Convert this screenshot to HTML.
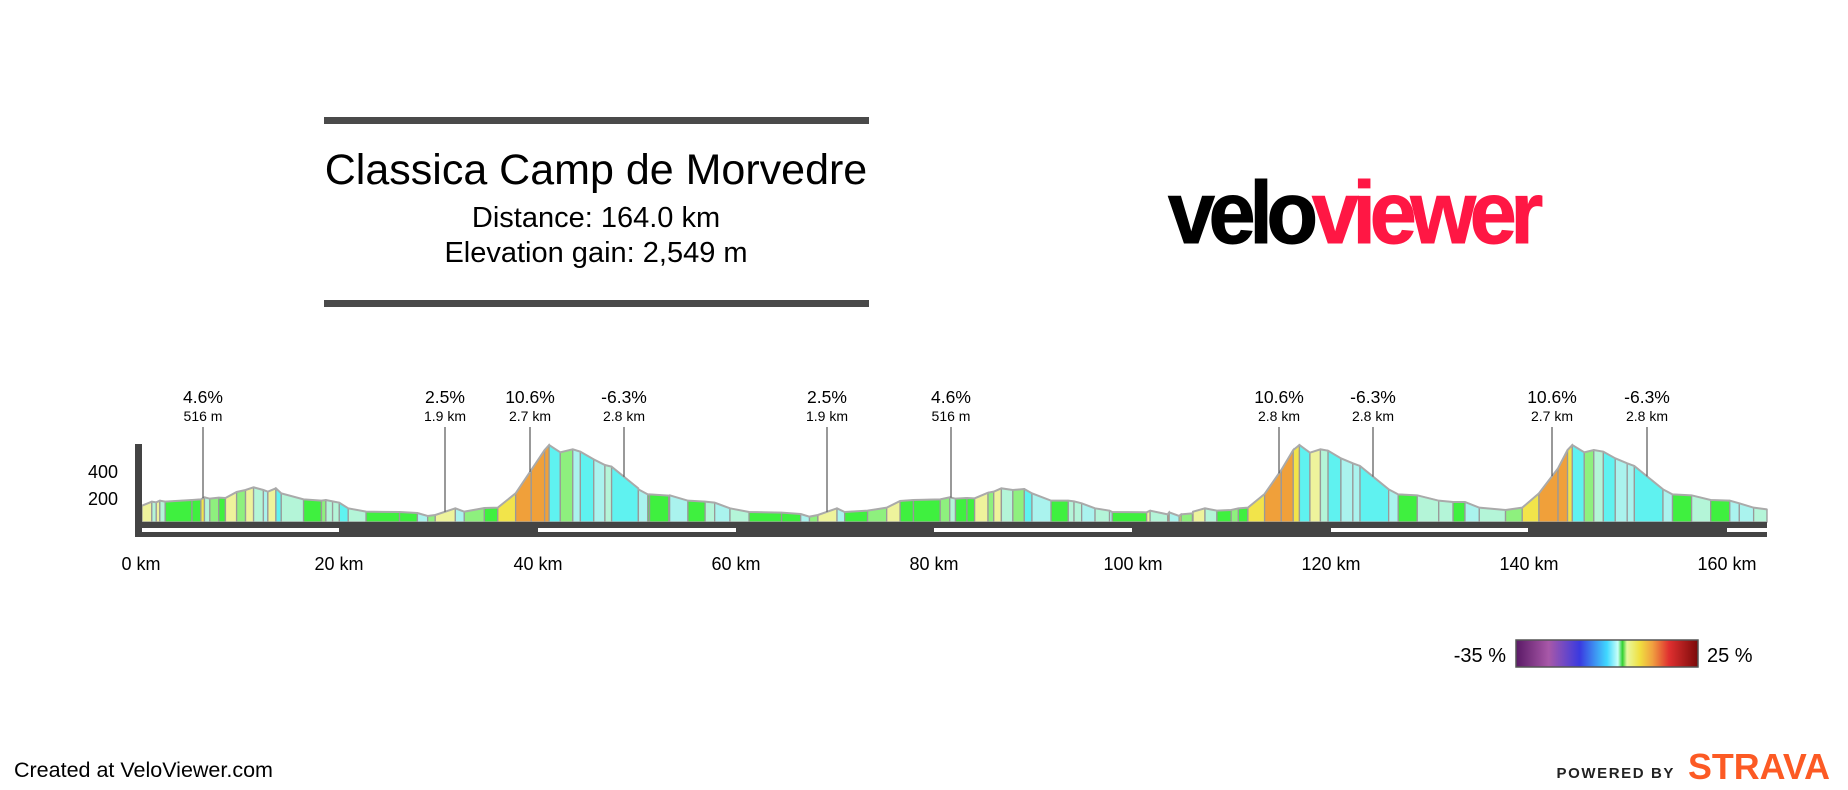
<!DOCTYPE html>
<html><head><meta charset="utf-8"><style>
html,body{margin:0;padding:0;background:#fff;width:1848px;height:790px;overflow:hidden}
svg text{font-family:"Liberation Sans",Arial,sans-serif}
</style></head><body>
<svg id="s" width="1848" height="790" viewBox="0 0 1848 790" xmlns="http://www.w3.org/2000/svg">
<defs><linearGradient id="cb" x1="0" x2="1" y1="0" y2="0">
<stop offset="0" stop-color="#5a1a66"/><stop offset="0.18" stop-color="#a858a8"/><stop offset="0.35" stop-color="#3a3ae0"/><stop offset="0.5" stop-color="#40d8ff"/><stop offset="0.56" stop-color="#c8fff8"/><stop offset="0.585" stop-color="#30d030"/><stop offset="0.61" stop-color="#e8f8a0"/><stop offset="0.68" stop-color="#f0e040"/><stop offset="0.75" stop-color="#f0a040"/><stop offset="0.84" stop-color="#e03030"/><stop offset="1" stop-color="#7a0a0a"/></linearGradient></defs>
<rect x="324" y="117" width="545" height="7" fill="#4a4a4a"/>
<rect x="324" y="300" width="545" height="7" fill="#4a4a4a"/>
<text x="596" y="184" font-size="43" text-anchor="middle" fill="#000">Classica Camp de Morvedre</text>
<text x="596" y="227" font-size="29" text-anchor="middle" fill="#000">Distance: 164.0 km</text>
<text x="596" y="262" font-size="29" text-anchor="middle" fill="#000">Elevation gain: 2,549 m</text>
<text x="1168" y="243" font-size="88" font-weight="bold" letter-spacing="-6.5" fill="#000" textLength="369" lengthAdjust="spacingAndGlyphs" stroke="#000" stroke-width="1">velo<tspan fill="#ff1744" stroke="#ff1744">viewer</tspan></text>
<g id="prof"></g>
<rect x="135" y="444" width="7" height="80" fill="#444"/>
<rect x="135" y="522" width="1632" height="15" fill="#444"/>
<g fill="#fff">
<rect x="142" y="528" width="197" height="4"/><rect x="538" y="528" width="198" height="4"/><rect x="934" y="528" width="198" height="4"/><rect x="1331" y="528" width="197" height="4"/><rect x="1727" y="528" width="40" height="4"/></g>
<g font-size="18" text-anchor="end" fill="#000"><text x="118" y="478">400</text><text x="118" y="505">200</text></g>
<g font-size="18" text-anchor="middle" fill="#000">
<text x="141" y="570">0 km</text><text x="339" y="570">20 km</text><text x="538" y="570">40 km</text><text x="736" y="570">60 km</text><text x="934" y="570">80 km</text><text x="1133" y="570">100 km</text><text x="1331" y="570">120 km</text><text x="1529" y="570">140 km</text><text x="1727" y="570">160 km</text></g>
<g id="ann"></g>
<rect x="1516" y="640" width="182" height="27" fill="url(#cb)" stroke="#555" stroke-width="1.5"/>
<text x="1506" y="662" font-size="20" text-anchor="end">-35 %</text>
<text x="1707" y="662" font-size="20">25 %</text>
<text x="14" y="777" font-size="21.5">Created at VeloViewer.com</text>
<text x="1675" y="778" font-size="15" text-anchor="end" letter-spacing="1.6" font-weight="bold" fill="#222">POWERED BY</text>
<text x="1830" y="779" font-size="36" text-anchor="end" font-weight="bold" fill="#fc5a24" textLength="142" lengthAdjust="spacingAndGlyphs">STRAVA</text>
</svg>
<script>
var z1=[[318,377],[340,365],[350,367],[358,362],[370,365],[430,360],[450,358],[458,352],[470,356],[490,353],[505,354],[530,336],[550,330],[568,322],[590,330],[600,335],[618,325],[630,340],[680,358],[720,362],[730,360],[745,364],[760,368],[780,385],[820,395],[895,396],[935,399],[958,408],[975,405],[1020,385],[1040,395],[1085,384],[1115,383],[1155,340],[1190,270],[1220,210],[1230,195],[1255,217],[1283,208],[1300,215],[1330,238],[1355,255],[1370,260],[1430,328],[1455,343],[1500,346]];
var z3=[[100,325],[125,343],[180,347],[230,362],[275,365],[300,368],[340,385],[390,396],[475,398],[525,402],[548,410],[570,405],[620,385],[640,396],[700,392],[750,383],[785,363],[820,360],[890,358],[915,352],[930,356],[960,354],[980,355],[1015,338],[1030,335],[1050,325],[1080,330],[1110,327],[1130,340],[1180,362],[1225,362],[1240,364],[1260,370],[1295,385],[1340,396],[1430,397],[1485,403],[1515,408],[1550,400]];
var z2=[[20,392],[105,392],[145,397],[170,403],[195,395],[220,385],[245,392],[275,390],[290,385],[310,383],[345,342],[380,270],[405,210],[418,195],[440,218],[462,208],[478,212],[505,235],[530,250],[545,258],[605,328],[625,343],[665,346],[710,362],[740,366],[765,366],[795,383],[850,390],[885,383],[920,340],[960,265],[980,210],[990,195],[1015,217],[1035,210],[1055,215],[1080,235],[1105,250],[1120,258],[1180,328],[1200,343],[1240,346],[1280,360],[1320,362],[1340,370],[1370,383],[1398,388]];
var P=[];
z1.forEach(function(p){P.push([p[0]/2.24,380+p[1]/3]);});
z3.forEach(function(p){P.push([600+p[0]/2.616,380+p[1]/3]);});
z2.forEach(function(p){P.push([1100+p[0]/2.096,380+p[1]/3]);});
P.sort(function(a,b){return a[0]-b[0]});
var B=522,ns="http://www.w3.org/2000/svg",g=document.getElementById('prof');
function col(gr){if(gr>8)return'#f0a03a';if(gr>4)return'#f2e44a';if(gr>2)return'#eef39c';if(gr>0.6)return'#8ef07e';if(gr>-0.6)return'#3ff03f';if(gr>-2)return'#b4f5d8';if(gr>-4)return'#aaf3ee';return'#5ff2f0';}
for(var i=0;i<P.length-1;i++){var a=P[i],b=P[i+1];if(b[0]-a[0]<0.3)continue;
var gr=-(b[1]-a[1])/(b[0]-a[0])*7.33;
var e=document.createElementNS(ns,'polygon');
e.setAttribute('points',a[0]+','+B+' '+a[0]+','+a[1]+' '+b[0]+','+b[1]+' '+b[0]+','+B);
e.setAttribute('fill',col(gr));e.setAttribute('stroke','#999');e.setAttribute('stroke-width','1.3');g.appendChild(e);}
var pl=document.createElementNS(ns,'polyline');pl.setAttribute('points',P.map(function(p){return p.join(',')}).join(' '));
pl.setAttribute('fill','none');pl.setAttribute('stroke','#aaa');pl.setAttribute('stroke-width','2');g.appendChild(pl);
function yAt(x){for(var i=0;i<P.length-1;i++){if(P[i][0]<=x&&P[i+1][0]>=x){var t=(x-P[i][0])/(P[i+1][0]-P[i][0]||1);return P[i][1]+t*(P[i+1][1]-P[i][1]);}}return 500;}
var A=[[203,'4.6%','516 m'],[445,'2.5%','1.9 km'],[530,'10.6%','2.7 km'],[624,'-6.3%','2.8 km'],[827,'2.5%','1.9 km'],[951,'4.6%','516 m'],[1279,'10.6%','2.8 km'],[1373,'-6.3%','2.8 km'],[1552,'10.6%','2.7 km'],[1647,'-6.3%','2.8 km']];
var an=document.getElementById('ann'),h='';
A.forEach(function(a){h+='<line x1="'+a[0]+'" x2="'+a[0]+'" y1="427" y2="'+yAt(a[0])+'" stroke="#555" stroke-width="1.2"/>';
h+='<text x="'+a[0]+'" y="403" font-size="17.5" text-anchor="middle">'+a[1]+'</text>';
h+='<text x="'+a[0]+'" y="421" font-size="14" text-anchor="middle">'+a[2]+'</text>';});
an.innerHTML=h;
</script>
</body></html>
